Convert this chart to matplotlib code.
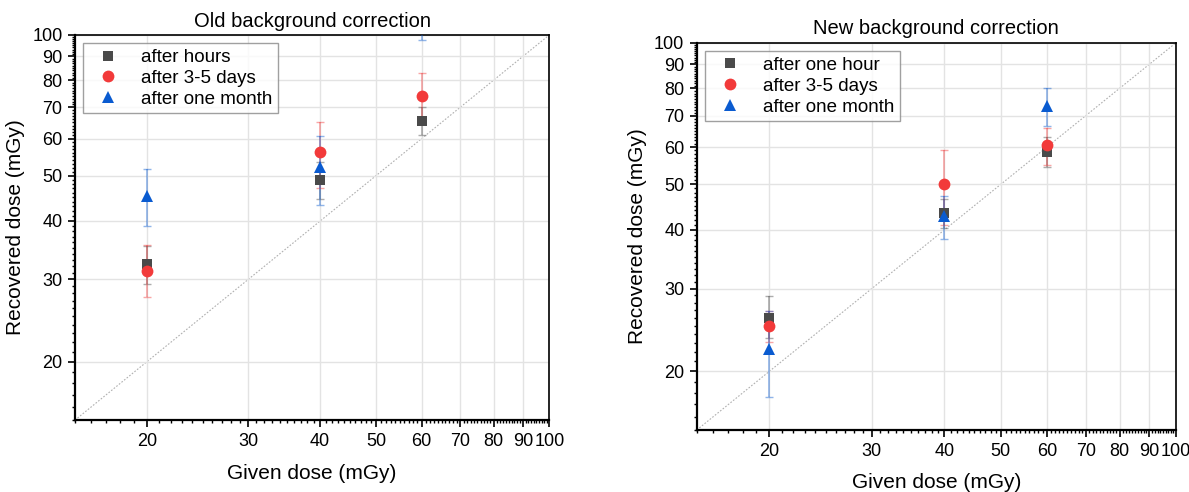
import numpy as np
import matplotlib
matplotlib.use('Agg')
import matplotlib.pyplot as plt
from matplotlib.ticker import FixedLocator, FixedFormatter, NullFormatter

plt.rcParams.update({
    'font.family': ['Liberation Sans', 'DejaVu Sans'],
    'font.size': 12,
})

# Given doses (mGy)
given = [20, 40, 60]

# Old background correction: recovered dose and error-bar bounds
old_hours = [32.4, 48.9, 65.6]
old_hours_lo = [29.3, 44.6, 61.2]
old_hours_hi = [35.3, 53.5, 70.1]
old_days = [31.3, 56.1, 73.9]
old_days_lo = [27.5, 47.1, 66.5]
old_days_hi = [35.5, 65.2, 83.1]
old_month = [45.3, 52.2, 115.0]
old_month_lo = [39.0, 43.3, 97.5]
old_month_hi = [51.8, 60.8, 135.0]

# New background correction
new_hour = [26.0, 43.4, 58.6]
new_hour_lo = [23.5, 40.3, 54.5]
new_hour_hi = [28.9, 46.5, 63.1]
new_days = [25.0, 50.0, 60.6]
new_days_lo = [23.1, 40.9, 54.9]
new_days_hi = [26.9, 59.0, 66.0]
new_month = [22.3, 42.9, 73.2]
new_month_lo = [17.6, 38.2, 66.5]
new_month_hi = [26.9, 47.1, 80.0]

major_ticks = [20, 30, 40, 50, 60, 70, 80, 90, 100]
minor_ticks = list(range(15, 101))

GREY = '#4a4a4a'
RED = '#f23a3a'
BLUE = '#0a5bd0'


def draw_series(ax, y, lo, hi, color, marker, ms, label):
    y = np.array(y)
    err = [y - np.array(lo), np.array(hi) - y]
    ax.errorbar(given, y, yerr=err, fmt='none', ecolor=color, alpha=0.45,
                elinewidth=1.2, capsize=3, capthick=1.0, zorder=3)
    ax.plot(given, y, linestyle='none', marker=marker, color=color,
            markersize=ms, markeredgewidth=0, label=label, zorder=4)


def setup_axes(ax, title):
    ax.set_xscale('log')
    ax.set_yscale('log')
    ax.set_xlim(15, 100)
    ax.set_ylim(15, 100)
    for axis in (ax.xaxis, ax.yaxis):
        axis.set_major_locator(FixedLocator(major_ticks))
        axis.set_major_formatter(FixedFormatter([str(t) for t in major_ticks]))
        axis.set_minor_locator(FixedLocator(minor_ticks))
        axis.set_minor_formatter(NullFormatter())
    ax.grid(True, which='major', color='#e3e3e3', linewidth=1.0, zorder=0)
    ax.plot([15, 100], [15, 100], linestyle=(0, (1.5, 1.5)), color='#b0b0b0',
            linewidth=0.8, zorder=1)
    ax.tick_params(which='major', direction='out', length=5, width=1.2,
                   labelsize=13, pad=4)
    ax.tick_params(which='minor', direction='out', length=2.5, width=1.0)
    for side in ('left', 'bottom'):
        ax.spines[side].set_linewidth(1.6)
    for side in ('top', 'right'):
        ax.spines[side].set_linewidth(1.2)
    ax.set_title(title, fontsize=14.5, pad=6)
    ax.set_xlabel('Given dose (mGy)', fontsize=15, labelpad=10)
    ax.set_ylabel('Recovered dose (mGy)', fontsize=15, labelpad=5)


fig = plt.figure(figsize=(11.89, 4.92), dpi=100)
ax1 = fig.add_axes([0.063, 0.146, 0.399, 0.783])
ax2 = fig.add_axes([0.586, 0.126, 0.403, 0.787])

setup_axes(ax1, 'Old background correction')
draw_series(ax1, old_hours, old_hours_lo, old_hours_hi, GREY, 's', 7.5, 'after hours')
draw_series(ax1, old_days, old_days_lo, old_days_hi, RED, 'o', 8.5, 'after 3-5 days')
draw_series(ax1, old_month, old_month_lo, old_month_hi, BLUE, '^', 9, 'after one month')

setup_axes(ax2, 'New background correction')
draw_series(ax2, new_hour, new_hour_lo, new_hour_hi, GREY, 's', 7.5, 'after one hour')
draw_series(ax2, new_days, new_days_lo, new_days_hi, RED, 'o', 8.5, 'after 3-5 days')
draw_series(ax2, new_month, new_month_lo, new_month_hi, BLUE, '^', 9, 'after one month')

for ax in (ax1, ax2):
    leg = ax.legend(loc='upper left', fontsize=13.5, fancybox=False,
                    borderaxespad=0.45, handletextpad=0.8, labelspacing=0.2,
                    borderpad=0.3)
    leg.get_frame().set_edgecolor('#888888')
    leg.get_frame().set_linewidth(1.0)

fig.savefig('out.png', dpi=100)
